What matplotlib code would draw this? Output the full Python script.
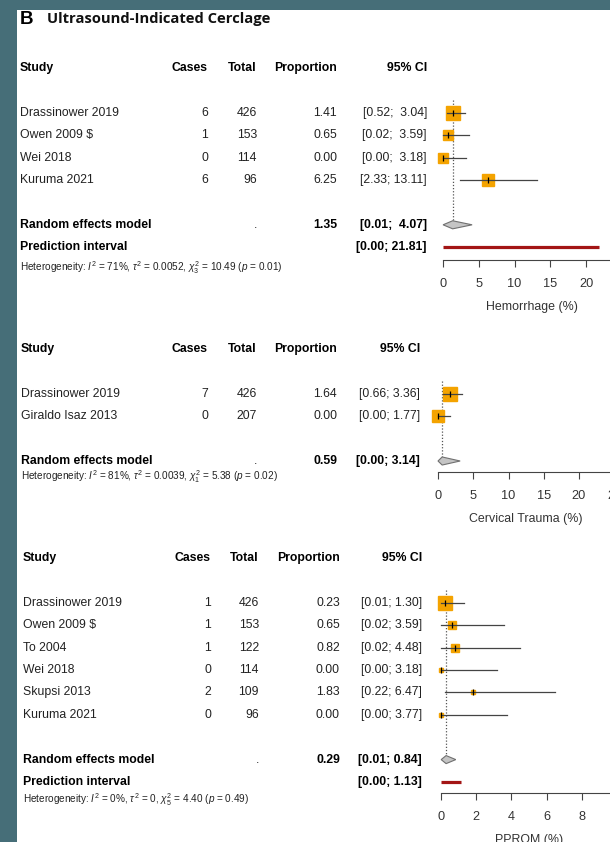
import numpy as np
import matplotlib
matplotlib.use("Agg")
import matplotlib.pyplot as plt
import matplotlib.transforms as mtransforms
from matplotlib.patches import Rectangle, Polygon

plt.rcParams['font.family'] = ['Liberation Sans', 'DejaVu Sans']
plt.rcParams['mathtext.fontset'] = 'custom'
plt.rcParams['mathtext.rm'] = 'Liberation Sans'
plt.rcParams['mathtext.it'] = 'Liberation Sans:italic'
plt.rcParams['mathtext.bf'] = 'Liberation Sans:bold'

# ---- data ----
hem_study = ["Drassinower 2019", "Owen 2009 $", "Wei 2018", "Kuruma 2021"]
hem_cases = [6, 1, 0, 6]
hem_total = [426, 153, 114, 96]
hem_prop = [1.41, 0.65, 0.00, 6.25]
hem_lo = [0.52, 0.02, 0.00, 2.33]
hem_hi = [3.04, 3.59, 3.18, 13.11]
hem_weight = [33.7, 20.8, 20.8, 24.7]
hem_random = [1.35, 0.01, 4.07]
hem_pred = [0.00, 21.81]
hem_het = r"Heterogeneity: $I^2$ = 71%, $\tau^2$ = 0.0052, $\chi^2_3$ = 10.49 ($p$ = 0.01)"

ct_study = ["Drassinower 2019", "Giraldo Isaz 2013"]
ct_cases = [7, 0]
ct_total = [426, 207]
ct_prop = [1.64, 0.00]
ct_lo = [0.66, 0.00]
ct_hi = [3.36, 1.77]
ct_weight = [58.3, 41.7]
ct_random = [0.59, 0.00, 3.14]
ct_pred = None
ct_het = r"Heterogeneity: $I^2$ = 81%, $\tau^2$ = 0.0039, $\chi^2_1$ = 5.38 ($p$ = 0.02)"

pp_study = ["Drassinower 2019", "Owen 2009 $", "To 2004", "Wei 2018", "Skupsi 2013", "Kuruma 2021"]
pp_cases = [1, 1, 1, 0, 2, 0]
pp_total = [426, 153, 122, 114, 109, 96]
pp_prop = [0.23, 0.65, 0.82, 0.00, 1.83, 0.00]
pp_lo = [0.01, 0.02, 0.02, 0.00, 0.22, 0.00]
pp_hi = [1.30, 3.59, 4.48, 3.18, 6.47, 3.77]
pp_weight = [51.0, 16.7, 12.8, 6.5, 6.5, 6.5]
pp_random = [0.29, 0.01, 0.84]
pp_pred = [0.00, 1.13]
pp_het = r"Heterogeneity: $I^2$ = 0%, $\tau^2$ = 0, $\chi^2_5$ = 4.40 ($p$ = 0.49)"

W, H = 610, 842
ROW = 22.4
TXT = '#222222'
FS = 8.8

fig = plt.figure(figsize=(W / 100, H / 100), dpi=100, facecolor='#466e78')
fig.patches.append(Rectangle((17 / W, 0), 1, 1 - 10 / H, transform=fig.transFigure,
                             facecolor='white', edgecolor='none', zorder=-10))

fig.text(20 / W, 1 - 19 / H, "B", fontsize=13.5, fontweight='bold', va='center', color='black')
fig.text(47 / W, 1 - 19 / H, "Ultrasound-Indicated Cerclage", fontsize=10.6,
         fontweight='bold', family=['Open Sans', 'DejaVu Sans'], va='center', color='#111111')


def ci_text(lo, hi, width):
    return "[{:.2f}; {:>{w}.2f}]".format(lo, hi, w=width)


def forest(study, cases, total, prop, lo, hi, weight, random, pred, het,
           header_px, x0, ppu, xmax, ticks, xlabel, cols, het_row, axis_row):
    n = len(study)
    top_row = -0.5
    axis_px = header_px + axis_row * ROW
    top_px = header_px + top_row * ROW
    ax = fig.add_axes([x0 / W, 1 - axis_px / H, xmax * ppu / W, (axis_px - top_px) / H])
    ax.set_xlim(0, xmax)
    ax.set_ylim(axis_row, top_row)
    ax.patch.set_alpha(0)
    for s in ['top', 'right', 'left']:
        ax.spines[s].set_visible(False)
    ax.spines['bottom'].set_color('#444444')
    ax.spines['bottom'].set_linewidth(0.8)
    ax.set_yticks([])
    ax.set_xticks(ticks)
    ax.set_xticklabels([str(t) for t in ticks])
    ax.tick_params(axis='x', direction='out', length=5, width=0.8, color='#444444',
                   labelsize=9.2, labelcolor='#333333', pad=8)
    ax.set_xlabel(xlabel, fontsize=8.9, color='#333333', labelpad=8)

    tr = mtransforms.blended_transform_factory(fig.transFigure, ax.transData)
    c_study, c_cases, c_total, c_prop, c_ci = [c / W for c in cols]

    # header
    for x, s, ha in [(c_study, "Study", 'left'), (c_cases, "Cases", 'right'),
                     (c_total, "Total", 'right'), (c_prop, "Proportion", 'right'),
                     (c_ci, "95% CI", 'right')]:
        ax.text(x, 0, s, transform=tr, ha=ha, va='center', fontsize=FS,
                fontweight='bold', color='black')

    allhi = list(hi) + [random[2]] + ([pred[1]] if pred else [])
    wd = max(len("{:.2f}".format(v)) for v in allhi)
    wmax = max(weight)
    for i in range(n):
        r = 2 + i
        ax.text(c_study, r, study[i], transform=tr, ha='left', va='center', fontsize=FS, color=TXT)
        ax.text(c_cases, r, str(cases[i]), transform=tr, ha='right', va='center', fontsize=FS, color=TXT)
        ax.text(c_total, r, str(total[i]), transform=tr, ha='right', va='center', fontsize=FS, color=TXT)
        ax.text(c_prop, r, "{:.2f}".format(prop[i]), transform=tr, ha='right', va='center', fontsize=FS, color=TXT)
        ax.text(c_ci, r, ci_text(lo[i], hi[i], wd), transform=tr, ha='right', va='center', fontsize=FS, color=TXT)
        side = 14 * np.sqrt(weight[i] / wmax) * 0.72
        ax.plot(prop[i], r, marker='s', ms=side, color='#f4a300', mec='#f4a300',
                clip_on=False, zorder=3)
        ax.plot([lo[i], hi[i]], [r, r], color='#444444', lw=0.9, clip_on=False, zorder=4)
        ax.plot(prop[i], r, marker='|', ms=4, mew=0.9, color='black', clip_on=False, zorder=5)

    rr = n + 3
    ax.text(c_study, rr, "Random effects model", transform=tr, ha='left', va='center',
            fontsize=FS, fontweight='bold', color='black')
    ax.text(c_total, rr, ".", transform=tr, ha='right', va='center', fontsize=FS, color=TXT)
    ax.text(c_prop, rr, "{:.2f}".format(random[0]), transform=tr, ha='right', va='center',
            fontsize=FS, fontweight='bold', color='black')
    ax.text(c_ci, rr, ci_text(random[1], random[2], wd), transform=tr, ha='right', va='center',
            fontsize=FS, fontweight='bold', color='black')
    h = 0.18
    ax.add_patch(Polygon([(random[1], rr), (random[0], rr - h), (random[2], rr), (random[0], rr + h)],
                         closed=True, facecolor='#c4c4c4', edgecolor='#707070', lw=0.8,
                         clip_on=False, zorder=3))
    ax.plot([random[0], random[0]], [1.45, rr - h], color='#555555', ls=(0, (1, 1.5)),
            lw=0.9, zorder=2)

    if pred:
        pr = rr + 1
        ax.text(c_study, pr, "Prediction interval", transform=tr, ha='left', va='center',
                fontsize=FS, fontweight='bold', color='black')
        ax.text(c_ci, pr, ci_text(pred[0], pred[1], wd), transform=tr, ha='right', va='center',
                fontsize=FS, fontweight='bold', color='black')
        ax.plot(pred, [pr, pr], color='#a31515', lw=2.3, solid_capstyle='butt', zorder=3)

    ax.text(c_study, het_row, het, transform=tr, ha='left', va='center', fontsize=7.2, color=TXT)
    return ax


forest(hem_study, hem_cases, hem_total, hem_prop, hem_lo, hem_hi, hem_weight, hem_random,
       hem_pred, hem_het, header_px=68, x0=443, ppu=7.15, xmax=25, ticks=[0, 5, 10, 15, 20, 25],
       xlabel="Hemorrhage (%)", cols=[20, 208, 257, 337, 427], het_row=8.9, axis_row=8.55)

forest(ct_study, ct_cases, ct_total, ct_prop, ct_lo, ct_hi, ct_weight, ct_random,
       ct_pred, ct_het, header_px=349, x0=438, ppu=7.05, xmax=25, ticks=[0, 5, 10, 15, 20, 25],
       xlabel="Cervical Trauma (%)", cols=[21, 208, 257, 337, 420], het_row=5.7, axis_row=5.5)

forest(pp_study, pp_cases, pp_total, pp_prop, pp_lo, pp_hi, pp_weight, pp_random,
       pp_pred, pp_het, header_px=558, x0=441, ppu=17.6, xmax=10, ticks=[0, 2, 4, 6, 8, 10],
       xlabel="PPROM (%)", cols=[23, 211, 259, 340, 422], het_row=10.8, axis_row=10.5)

fig.savefig("out.png", dpi=100, facecolor=fig.get_facecolor())
